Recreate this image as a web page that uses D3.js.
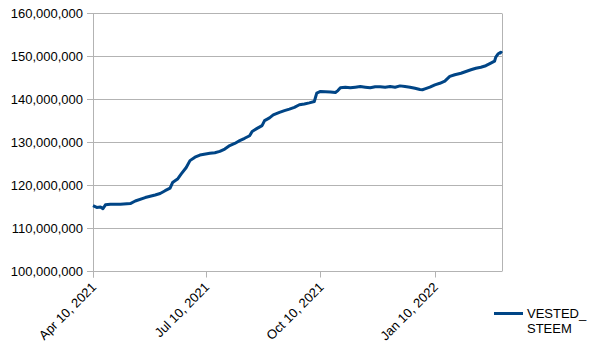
<!DOCTYPE html>
<html>
<head>
<meta charset="utf-8">
<script src="https://cdn.jsdelivr.net/npm/d3@7"></script>
<style>
  html, body { margin: 0; padding: 0; background: #fff; }
  svg { display: block; font-family: "Liberation Sans", Arial, sans-serif; }
</style>
</head>
<body>
<div id="chart"></div>
<script>
  // series: VESTED_STEEM
  var dates = [
    '2021-04-10', '2021-04-13', '2021-04-16', '2021-04-18', '2021-04-20', '2021-04-24',
    '2021-05-02', '2021-05-10', '2021-05-14', '2021-05-22', '2021-05-30', '2021-06-03',
    '2021-06-07', '2021-06-11', '2021-06-13', '2021-06-17', '2021-06-20', '2021-06-24',
    '2021-06-27', '2021-07-01', '2021-07-05', '2021-07-13', '2021-07-17', '2021-07-21',
    '2021-07-25', '2021-07-29', '2021-08-02', '2021-08-06', '2021-08-10', '2021-08-14',
    '2021-08-16', '2021-08-20', '2021-08-24', '2021-08-26', '2021-08-30', '2021-09-02',
    '2021-09-07', '2021-09-11', '2021-09-15', '2021-09-19', '2021-09-23', '2021-09-27',
    '2021-10-01', '2021-10-05', '2021-10-06', '2021-10-07', '2021-10-10', '2021-10-18',
    '2021-10-22', '2021-10-24', '2021-10-26', '2021-10-30', '2021-11-03', '2021-11-07',
    '2021-11-11', '2021-11-15', '2021-11-19', '2021-11-23', '2021-11-27', '2021-12-01',
    '2021-12-05', '2021-12-09', '2021-12-13', '2021-12-17', '2021-12-21', '2021-12-25',
    '2021-12-29', '2021-12-31', '2022-01-02', '2022-01-06', '2022-01-10', '2022-01-14',
    '2022-01-18', '2022-01-22', '2022-01-26', '2022-01-31', '2022-02-04', '2022-02-08',
    '2022-02-12', '2022-02-16', '2022-02-20', '2022-02-24', '2022-02-27', '2022-02-28',
    '2022-03-02', '2022-03-04', '2022-03-05'
  ];
  var values = [
    115.2, 114.8, 114.9, 114.5, 115.4, 115.55,
    115.55, 115.7, 116.3, 117.1, 117.7, 118.05,
    118.7, 119.3, 120.6, 121.4, 122.6, 124.1,
    125.7, 126.5, 127.0, 127.4, 127.55, 127.85,
    128.4, 129.2, 129.7, 130.35, 130.9, 131.5,
    132.5, 133.2, 133.85, 135.0, 135.65, 136.35,
    136.95, 137.35, 137.7, 138.1, 138.7, 138.9,
    139.15, 139.45, 140.45, 141.4, 141.8, 141.7,
    141.55, 142.0, 142.65, 142.8, 142.65, 142.8,
    142.95, 142.8, 142.65, 142.9, 142.9, 142.8,
    142.95, 142.8, 143.1, 142.95, 142.8, 142.55,
    142.25, 142.2, 142.4, 142.8, 143.35, 143.7,
    144.2, 145.3, 145.7, 146.05, 146.45, 146.85,
    147.2, 147.45, 147.8, 148.4, 148.85, 149.8,
    150.6, 150.95, 150.7
  ].map(function(v) { return v * 1e6; });

  var seriesName = ['VESTED_', 'STEEM'];
  var yTicks = [100e6, 110e6, 120e6, 130e6, 140e6, 150e6, 160e6];
  var xTicks = ['2021-04-10', '2021-07-10', '2021-10-10', '2022-01-10'];

  var width = 604, height = 354;
  var plot = { left: 93, right: 502, top: 13.3, bottom: 271 };
  var lineColor = '#004586';
  var gridColor = '#b3b3b3';

  var parse = d3.timeParse('%Y-%m-%d');
  var data = dates.map(function(d, i) { return { date: parse(d), value: values[i] }; });

  var svg = d3.select('#chart')
    .append('svg')
      .attr('width', width)
      .attr('height', height);

  var x = d3.scaleTime()
    .domain([parse(dates[0]), parse(dates[dates.length - 1])])
    .range([plot.left, plot.right]);

  var y = d3.scaleLinear()
    .domain([100e6, 160e6])
    .range([plot.bottom, plot.top]);

  var px = function(v) { return Math.round(v) + 0.5; };

  // gridlines
  svg.append('g')
    .selectAll('line')
    .data(yTicks)
    .join('line')
      .attr('x1', plot.left - 6)
      .attr('x2', plot.right)
      .attr('y1', function(d) { return px(y(d)); })
      .attr('y2', function(d) { return px(y(d)); })
      .attr('stroke', gridColor)
      .attr('stroke-width', 1);

  // left axis line + right border
  svg.append('line')
    .attr('x1', px(plot.left)).attr('x2', px(plot.left))
    .attr('y1', px(plot.top)).attr('y2', px(plot.bottom) + 6)
    .attr('stroke', gridColor);
  svg.append('line')
    .attr('x1', px(plot.right)).attr('x2', px(plot.right))
    .attr('y1', px(plot.top)).attr('y2', px(plot.bottom))
    .attr('stroke', gridColor);

  // x ticks
  svg.append('g')
    .selectAll('line')
    .data(xTicks)
    .join('line')
      .attr('x1', function(d) { return px(x(parse(d))); })
      .attr('x2', function(d) { return px(x(parse(d))); })
      .attr('y1', px(plot.bottom))
      .attr('y2', px(plot.bottom) + 6)
      .attr('stroke', gridColor);

  // y labels
  var fmt = d3.format(',');
  svg.append('g')
    .selectAll('text')
    .data(yTicks)
    .join('text')
      .attr('x', plot.left - 10)
      .attr('y', function(d) { return y(d); })
      .attr('dy', '0.36em')
      .attr('text-anchor', 'end')
      .style('font-size', '13px')
      .attr('fill', '#000')
      .text(function(d) { return fmt(d); });

  // x labels, rotated
  var xfmt = d3.timeFormat('%b %-d, %Y');
  svg.append('g')
    .selectAll('text')
    .data(xTicks)
    .join('text')
      .attr('transform', function(d) {
        return 'translate(' + (x(parse(d)) + 4) + ',' + (plot.bottom + 17) + ') rotate(-45)';
      })
      .attr('text-anchor', 'end')
      .style('font-size', '13px')
      .attr('fill', '#000')
      .text(function(d) { return xfmt(parse(d)); });

  // the series
  var line = d3.line()
    .x(function(d) { return x(d.date); })
    .y(function(d) { return y(d.value); });

  svg.append('path')
    .datum(data)
    .attr('fill', 'none')
    .attr('stroke', lineColor)
    .attr('stroke-width', 3)
    .attr('stroke-linejoin', 'round')
    .attr('d', line);

  // legend
  var legend = svg.append('g').attr('transform', 'translate(494,313.5)');
  legend.append('line')
    .attr('x1', 0).attr('x2', 29)
    .attr('stroke', lineColor)
    .attr('stroke-width', 3);
  legend.append('text')
    .attr('x', 33)
    .attr('y', 4.5)
    .style('font-size', '13px')
    .selectAll('tspan')
    .data(seriesName)
    .join('tspan')
      .attr('x', 33)
      .attr('dy', function(d, i) { return i ? 15 : 0; })
      .text(function(d) { return d; });
</script>
</body>
</html>
